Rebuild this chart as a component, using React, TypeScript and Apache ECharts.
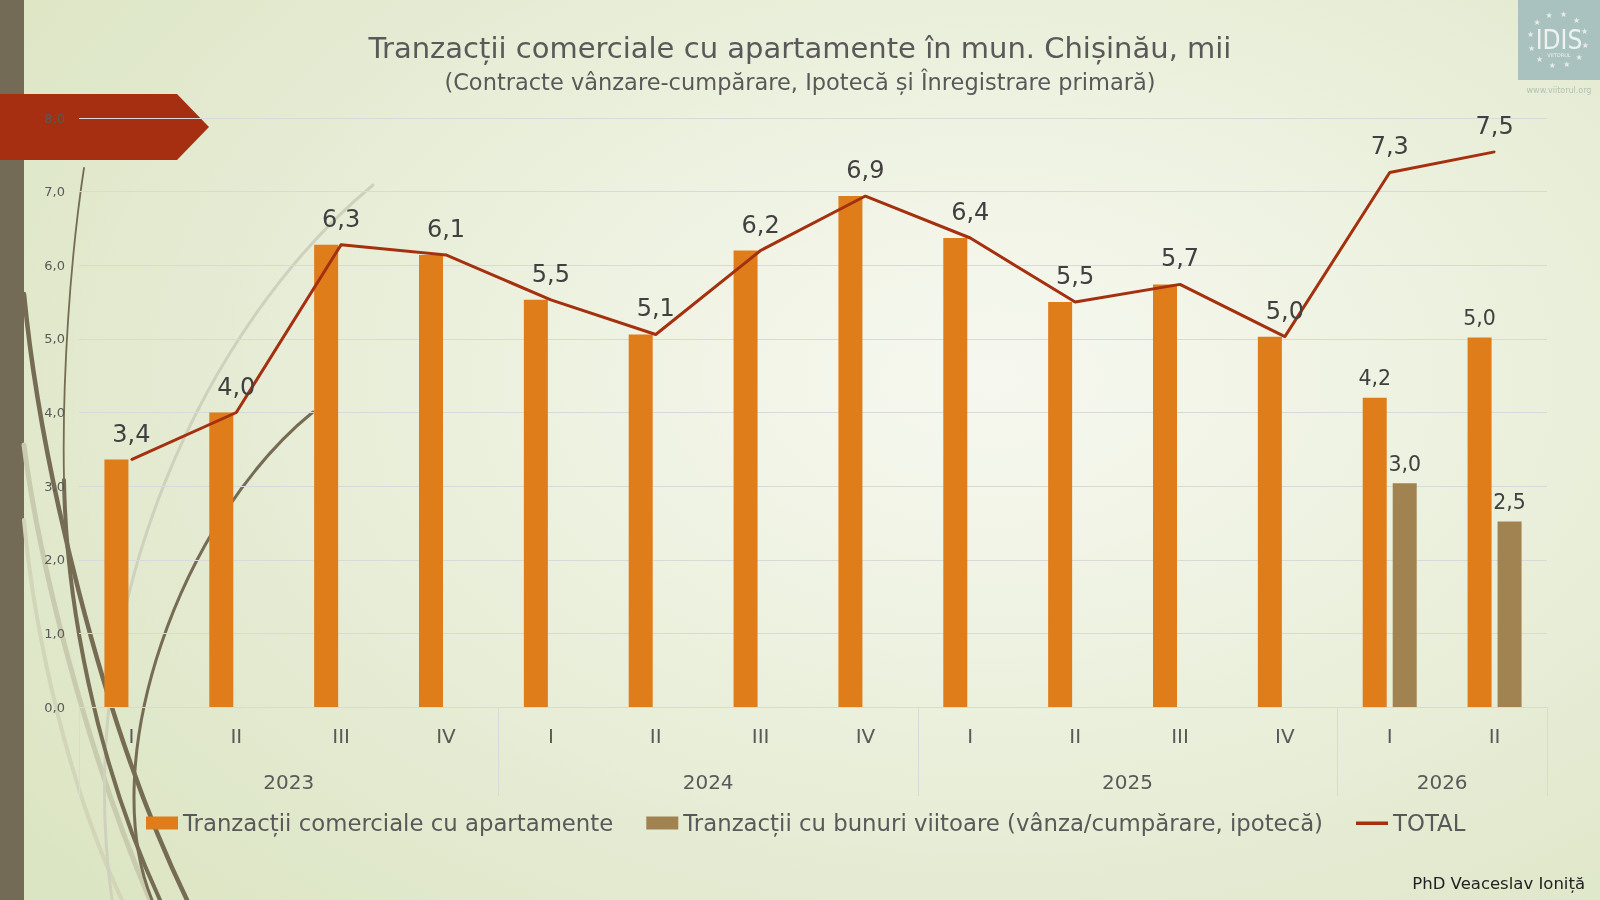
import React, { useEffect, useRef } from "react";
import * as echarts from "echarts";

// ---- data ----
const quarters = ["I", "II", "III", "IV", "I", "II", "III", "IV", "I", "II", "III", "IV", "I", "II"];
const years = ["2023", "2024", "2025", "2026"];
const quartersPerYear = [4, 4, 4, 2];
const apartamente = [3.36, 4.0, 6.28, 6.14, 5.53, 5.06, 6.2, 6.94, 6.37, 5.5, 5.74, 5.03, 4.2, 5.02];
const bunuriViitoare: (number | null)[] = [null, null, null, null, null, null, null, null, null, null, null, null, 3.04, 2.52];
const total = [3.36, 4.0, 6.28, 6.14, 5.53, 5.06, 6.2, 6.94, 6.37, 5.5, 5.74, 5.03, 7.26, 7.54];

const seriesNames = [
  "Tranzacții comerciale cu apartamente",
  "Tranzacții cu bunuri viitoare (vânza/cumpărare, ipotecă)",
  "TOTAL",
];
const titleText = "Tranzacții comerciale cu apartamente în mun. Chișinău, mii";
const subtitleText = "(Contracte vânzare-cumpărare, Ipotecă și Înregistrare primară)";
const authorText = "PhD Veaceslav Ioniță";

const FONT = "DejaVu Sans";
const fmt = (v: number) => v.toFixed(1).replace(".", ",");

// year boundaries / centres on the quarter scale
const yearBoundaries: number[] = [0];
quartersPerYear.forEach((n) => yearBoundaries.push(yearBoundaries[yearBoundaries.length - 1] + n));
const yearCenters = quartersPerYear.map((n, i) => yearBoundaries[i] + n / 2);

function decorations() {
  const els: any[] = [];
  // left strip
  els.push({ type: "rect", z: -10, silent: true, shape: { x: 0, y: 0, width: 24, height: 900 }, style: { fill: "#736B55" } });
  // curves
  const curve = (x1: number, y1: number, cpx1: number, cpy1: number, cpx2: number, cpy2: number, x2: number, y2: number, stroke: string, lineWidth: number) =>
    els.push({
      type: "bezierCurve",
      z: -9,
      silent: true,
      shape: { x1, y1, cpx1, cpy1, cpx2, cpy2, x2, y2 },
      style: { stroke, lineWidth, fill: "none", lineCap: "round" },
    });
  curve(24, 520, 35, 640, 70, 790, 122, 900, "#D3D5B9", 4);
  curve(24, 445, 40, 570, 90, 760, 150, 900, "#C9CBAE", 5);
  curve(373, 185, 210, 320, 70, 600, 112, 900, "#D0D1BD", 3);
  curve(84, 168, 70, 260, 62, 380, 64, 480, "#756C53", 1.8);
  curve(64, 480, 66, 600, 95, 760, 160, 900, "#756C53", 4);
  curve(24, 294, 40, 460, 100, 720, 187, 900, "#756C53", 4.5);
  curve(313, 412, 180, 520, 95, 760, 152, 900, "#756C53", 3);
  // red banner
  els.push({
    type: "polygon",
    z: -8,
    silent: true,
    shape: { points: [[0, 94], [177, 94], [209, 127], [177, 160], [0, 160]] },
    style: { fill: "#A52F10" },
  });
  // logo
  els.push({ type: "rect", z: -8, silent: true, shape: { x: 1518, y: 0, width: 82, height: 80 }, style: { fill: "#A9C1BF" } });
  els.push({
    type: "text", z: -7, silent: true, x: 1559, y: 40,
    style: { text: "IDIS", fill: "#EEF3EE", font: `26px 'DejaVu Sans Condensed', ${FONT}`, align: "center", verticalAlign: "middle" },
  });
  els.push({
    type: "text", z: -7, silent: true, x: 1559, y: 55,
    style: { text: "VIITORUL", fill: "#EEF3EE", font: `5px ${FONT}`, align: "center", verticalAlign: "middle" },
  });
  for (let i = 0; i < 12; i++) {
    const a = (i / 12) * Math.PI * 2 - Math.PI / 2 + 0.2;
    els.push({
      type: "text", z: -7, silent: true,
      x: 1558 + Math.cos(a) * 28, y: 40 + Math.sin(a) * 26,
      style: { text: "★", fill: "#E6EDE8", font: `8px ${FONT}`, align: "center", verticalAlign: "middle" },
    });
  }
  els.push({
    type: "text", z: -7, silent: true, x: 1559, y: 90,
    style: { text: "www.viitorul.org", fill: "#B3C2B4", font: `8px ${FONT}`, align: "center", verticalAlign: "middle" },
  });
  return els;
}

export default function App() {
  const ref = useRef<HTMLDivElement>(null);
  useEffect(() => {
    if (!ref.current) return;
    const chart = echarts.init(ref.current, undefined, { renderer: "svg" });
    const option: any = {
      animation: false,
      backgroundColor: "transparent",
      textStyle: { fontFamily: FONT },
      title: [
        {
          text: titleText,
          subtext: subtitleText,
          left: "center",
          top: 26,
          itemGap: 4,
          textStyle: { fontFamily: FONT, fontSize: 29, fontWeight: "normal", color: "#595959", lineHeight: 34 },
          subtextStyle: { fontFamily: FONT, fontSize: 22.5, color: "#595959", lineHeight: 26 },
        },
        {
          text: authorText,
          right: 10,
          bottom: 3,
          textStyle: { fontFamily: FONT, fontSize: 16.5, fontWeight: "normal", color: "#222222" },
        },
      ],
      grid: { left: 79, right: 53, top: 118, bottom: 193, containLabel: false },
      legend: {
        left: 141,
        top: 804,
        itemWidth: 32,
        itemHeight: 13,
        itemGap: 33,
        textStyle: { fontFamily: FONT, fontSize: 22.8, color: "#595959", lineHeight: 28 },
        data: [
          { name: seriesNames[0], icon: "rect" },
          { name: seriesNames[1], icon: "rect" },
          { name: seriesNames[2], icon: "path://M0,0L0.01,0M0,13L0.01,13M0,5L32,5L32,8.5L0,8.5Z" },
        ],
      },
      xAxis: [
        {
          type: "category",
          data: quarters,
          axisLine: { show: true, lineStyle: { color: "#D9D9D9", width: 1 } },
          axisTick: { show: false },
          axisLabel: { fontFamily: FONT, fontSize: 20, color: "#595959", margin: 19, interval: 0 },
          splitLine: { show: false },
        },
        {
          type: "value",
          position: "bottom",
          offset: 0,
          min: 0,
          max: quarters.length,
          axisLine: { show: false },
          splitLine: { show: false },
          axisTick: { show: true, customValues: yearBoundaries, length: 89, lineStyle: { color: "#D9D9D9", width: 1 } },
          axisLabel: {
            show: true,
            customValues: yearCenters,
            margin: 65,
            fontFamily: FONT,
            fontSize: 20,
            color: "#595959",
            formatter: (v: number) => {
              const i = yearCenters.indexOf(v);
              return i >= 0 ? years[i] : "";
            },
          },
        },
      ],
      yAxis: {
        type: "value",
        min: 0,
        max: 8,
        interval: 1,
        axisLine: { show: false },
        axisTick: { show: false },
        axisLabel: { fontFamily: FONT, fontSize: 13, color: "#595959", margin: 14, formatter: (v: number) => fmt(v) },
        splitLine: { lineStyle: { color: "#D9D9D9", width: 1 } },
      },
      series: [
        {
          name: seriesNames[0],
          type: "bar",
          barWidth: 24,
          barGap: "25%",
          itemStyle: { color: "#DF7D1B" },
          data: apartamente.map((v, i) => ({
            value: v,
            label: { show: bunuriViitoare[i] != null },
          })),
          label: {
            position: "top",
            distance: 9,
            fontFamily: FONT,
            fontSize: 20.5,
            color: "#404040",
            formatter: (p: any) => fmt(p.value),
          },
        },
        {
          name: seriesNames[1],
          type: "bar",
          barWidth: 24,
          barGap: "25%",
          itemStyle: { color: "#A08350" },
          data: bunuriViitoare,
          label: {
            show: true,
            position: "top",
            distance: 9,
            fontFamily: FONT,
            fontSize: 20.5,
            color: "#404040",
            formatter: (p: any) => fmt(p.value),
          },
        },
        {
          name: seriesNames[2],
          type: "line",
          data: total,
          symbol: "circle",
          symbolSize: 2,
          itemStyle: { color: "#A5300F" },
          lineStyle: { color: "#A5300F", width: 3 },
          z: 5,
          label: {
            show: true,
            position: "top",
            distance: 13,
            fontFamily: FONT,
            fontSize: 24,
            color: "#404040",
            formatter: (p: any) => fmt(p.value),
          },
        },
      ],
      graphic: { elements: decorations() },
    };
    chart.setOption(option);
    return () => chart.dispose();
  }, []);
  return (
    <div
      style={{
        position: "fixed",
        left: 0,
        top: 0,
        width: 1600,
        height: 900,
        background:
          "radial-gradient(ellipse 75% 85% at 62% 42%, #F6F8EF 0%, #EEF2E1 35%, #E3EAD0 72%, #DCE5C3 100%)",
      }}
    >
      <div ref={ref} style={{ width: 1600, height: 900 }} />
    </div>
  );
}
